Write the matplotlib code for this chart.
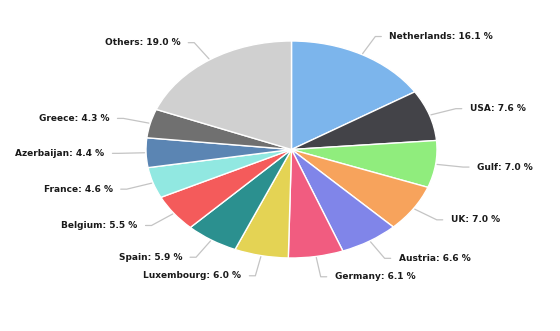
import numpy as np
import matplotlib
matplotlib.use("Agg")
import matplotlib.pyplot as plt

# ----------------- data -------------------------------------------------------
countries = ["Netherlands", "USA", "Gulf", "UK", "Austria", "Germany",
             "Luxembourg", "Spain", "Belgium", "France", "Azerbaijan",
             "Greece", "Others"]
shares = [16.1, 7.6, 7.0, 7.0, 6.6, 6.1, 6.0, 5.9, 5.5, 4.6, 4.4, 4.3, 19.0]
colors = ["#7cb5ec", "#434348", "#90ed7d", "#f7a35c", "#8085e9", "#f15c80",
          "#e4d354", "#2b908f", "#f45b5b", "#91e8e1", "#5b85b3", "#707070",
          "#d0d0d0"]

# ----------------- figure -----------------------------------------------------
W, H = 560, 331
fig = plt.figure(figsize=(W / 100, H / 100), dpi=100)
fig.patch.set_facecolor("white")

# axes sized to the (stretched) pie bounding box -> elliptical pie
left, right, top, bottom = 146, 437, 41, 258
ax = fig.add_axes([left / W, 1 - bottom / H, (right - left) / W, (bottom - top) / H])

wedges, _ = ax.pie(shares, colors=colors, startangle=90, counterclock=False,
                   radius=1.0, wedgeprops=dict(edgecolor="white", linewidth=1.0))
ax.set_xlim(-1, 1)
ax.set_ylim(-1, 1)
ax.set_aspect("auto")
ax.axis("off")

# px per data unit, to offset label text in pixels
sx = (right - left) / 2
sy = (bottom - top) / 2

r_lab = 1.19
for w, name, val in zip(wedges, countries, shares):
    mid = np.deg2rad((w.theta1 + w.theta2) / 2)
    cx, cy = np.cos(mid), np.sin(mid)
    x0, y0 = 1.01 * cx, 1.01 * cy
    x1, y1 = r_lab * cx, r_lab * cy
    side = 1 if cx >= 0 else -1
    x2 = x1 + side * 6 / sx
    ax.plot([x0, x1, x2], [y0, y1, y1], color="#c4c4c4", lw=0.9,
            clip_on=False, solid_capstyle="round")
    ax.text(x1 + side * 14 / sx, y1, f"{name}: {val:.1f} %",
            ha="left" if side > 0 else "right", va="center",
            fontsize=6.5, fontweight="bold", color="#1a1a1a", clip_on=False)

fig.savefig("out.png", dpi=100)
